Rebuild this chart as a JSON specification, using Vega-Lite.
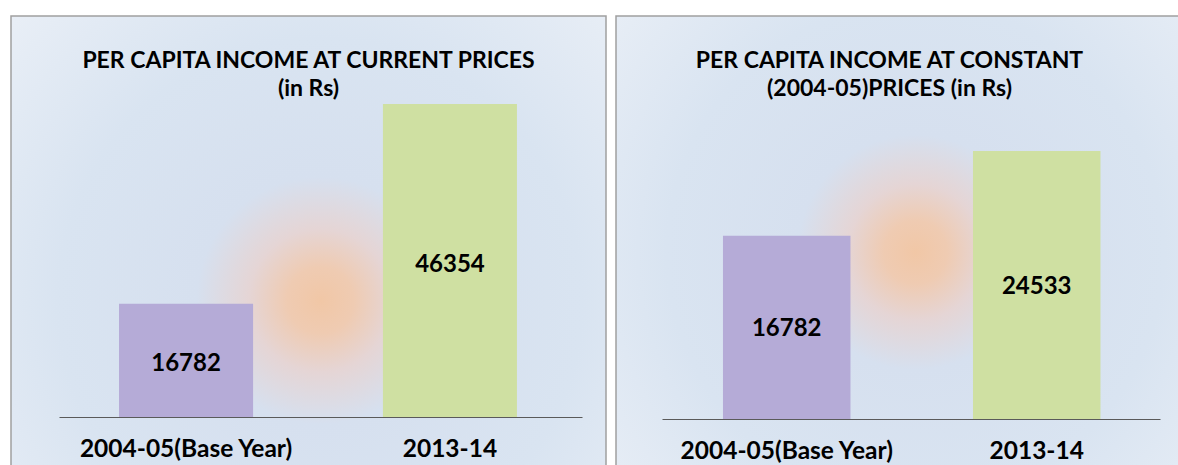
{
  "$schema": "https://vega.github.io/schema/vega-lite/v6.json",
  "background": "white",
  "padding": {"left": 10, "top": 15, "right": 0, "bottom": 0},
  "spacing": 8,
  "datasets": {
    "current": [
      {"year": "2004-05(Base Year)", "value": 16782},
      {"year": "2013-14", "value": 46354}
    ],
    "constant": [
      {"year": "2004-05(Base Year)", "value": 16782},
      {"year": "2013-14", "value": 24533}
    ]
  },
  "config": {
    "font": "Lato",
    "view": {"stroke": "#a0a0a0", "strokeWidth": 1.5},
    "title": {"fontSize": 23, "fontWeight": "bold", "color": "black", "font": "Lato", "lineHeight": 28, "anchor": "middle"},
    "axisX": {
      "domainColor": "#5a5a5a",
      "domainWidth": 1.2,
      "ticks": false,
      "tickSize": 0,
      "grid": false,
      "labelFont": "Lato",
      "labelFontSize": 24.5,
      "labelFontWeight": "bold",
      "labelColor": "black",
      "labelPadding": 20,
      "labelAngle": 0,
      "labelLimit": 400,
      "labelOverlap": false,
      "labelBound": false,
      "title": null
    }
  },
  "hconcat": [
    {
      "width": 595,
      "height": 450,
      "view": {
        "stroke": "#a0a0a0",
        "strokeWidth": 1.5,
        "fill": {
          "gradient": "radial",
          "x1": 0.52, "y1": 0.6, "r1": 0,
          "x2": 0.52, "y2": 0.6, "r2": 0.8,
          "stops": [
            {"offset": 0, "color": "#f1c7a6"},
            {"offset": 0.07, "color": "#efcbb2"},
            {"offset": 0.15, "color": "#e5d5d5"},
            {"offset": 0.26, "color": "#d6e0ef"},
            {"offset": 0.55, "color": "#d9e4f1"},
            {"offset": 1, "color": "#eef2f8"}
          ]
        }
      },
      "title": {"text": ["PER CAPITA INCOME AT CURRENT PRICES", "(in Rs)"], "offset": -85},
      "data": {"name": "current"},
      "encoding": {
        "x": {
          "field": "year", "type": "nominal", "sort": null,
          "scale": {"range": [48, 571], "paddingInner": 0.492, "paddingOuter": 0.237, "align": 0.48},
          "axis": {"offset": -49}
        },
        "y": {
          "field": "value", "type": "quantitative",
          "scale": {"domain": [0, 46354], "range": [401, 88], "nice": false, "zero": true},
          "axis": null
        }
      },
      "layer": [
        {
          "mark": {"type": "bar"},
          "encoding": {
            "color": {"field": "year", "type": "nominal", "sort": null, "scale": {"range": ["#b5abd7", "#cfe0a2"]}, "legend": null}
          }
        },
        {
          "transform": [{"calculate": "datum.value / 2", "as": "mid"}],
          "mark": {"type": "text", "fontSize": 24, "fontWeight": "bold", "color": "black", "font": "Lato", "dy": 4},
          "encoding": {
            "y": {"field": "mid", "type": "quantitative"},
            "text": {"field": "value", "type": "quantitative", "format": "d"}
          }
        }
      ]
    },
    {
      "width": 565,
      "height": 450,
      "view": {
        "stroke": "#a0a0a0",
        "strokeWidth": 1.5,
        "fill": {
          "gradient": "radial",
          "x1": 0.53, "y1": 0.52, "r1": 0,
          "x2": 0.53, "y2": 0.52, "r2": 0.8,
          "stops": [
            {"offset": 0, "color": "#f1c7a6"},
            {"offset": 0.07, "color": "#efcbb2"},
            {"offset": 0.15, "color": "#e5d5d5"},
            {"offset": 0.26, "color": "#d6e0ef"},
            {"offset": 0.55, "color": "#d9e4f1"},
            {"offset": 1, "color": "#eef2f8"}
          ]
        }
      },
      "title": {"text": ["PER CAPITA INCOME AT CONSTANT", "(2004-05)PRICES (in Rs)"], "offset": -85, "dx": -9},
      "data": {"name": "constant"},
      "encoding": {
        "x": {
          "field": "year", "type": "nominal", "sort": null,
          "scale": {"range": [46, 544], "paddingInner": 0.49, "paddingOuter": 0.241, "align": 0.506},
          "axis": {"offset": -47}
        },
        "y": {
          "field": "value", "type": "quantitative",
          "scale": {"domain": [0, 24533], "range": [403, 135], "nice": false, "zero": true},
          "axis": null
        }
      },
      "layer": [
        {
          "mark": {"type": "bar"},
          "encoding": {
            "color": {"field": "year", "type": "nominal", "sort": null, "scale": {"range": ["#b5abd7", "#cfe0a2"]}, "legend": null}
          }
        },
        {
          "transform": [{"calculate": "datum.value / 2", "as": "mid"}],
          "mark": {"type": "text", "fontSize": 24, "fontWeight": "bold", "color": "black", "font": "Lato", "dy": 2},
          "encoding": {
            "y": {"field": "mid", "type": "quantitative"},
            "text": {"field": "value", "type": "quantitative", "format": "d"}
          }
        }
      ]
    }
  ],
  "resolve": {"scale": {"x": "independent", "y": "independent", "color": "independent"}}
}
